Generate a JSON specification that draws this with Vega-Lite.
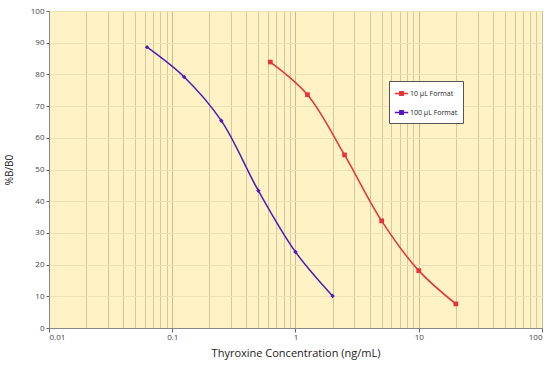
{
  "$schema": "https://vega.github.io/schema/vega-lite/v6.json",
  "width": 493,
  "height": 317,
  "autosize": {"type": "none"},
  "padding": {"left": 49, "top": 11, "right": 15, "bottom": 37},
  "background": "white",
  "config": {
    "view": {"fill": "#FFF3C6", "stroke": "#B0B0B0", "strokeWidth": 1},
    "font": "Open Sans"
  },
  "data": {
    "values": [
      {"conc": 0.625, "pct": 83.9, "series": "10 µL Format"},
      {"conc": 1.25, "pct": 73.6, "series": "10 µL Format"},
      {"conc": 2.5, "pct": 54.6, "series": "10 µL Format"},
      {"conc": 5, "pct": 33.8, "series": "10 µL Format"},
      {"conc": 10, "pct": 18.1, "series": "10 µL Format"},
      {"conc": 20, "pct": 7.6, "series": "10 µL Format"},
      {"conc": 0.0625, "pct": 88.6, "series": "100 µL Format"},
      {"conc": 0.125, "pct": 79.2, "series": "100 µL Format"},
      {"conc": 0.25, "pct": 65.4, "series": "100 µL Format"},
      {"conc": 0.5, "pct": 43.3, "series": "100 µL Format"},
      {"conc": 1, "pct": 24.0, "series": "100 µL Format"},
      {"conc": 2, "pct": 10.1, "series": "100 µL Format"}
    ]
  },
  "encoding": {
    "x": {
      "field": "conc",
      "type": "quantitative",
      "scale": {"type": "log", "domain": [0.01, 100], "nice": false},
      "axis": {
        "title": "Thyroxine Concentration (ng/mL)",
        "titleFont": "Open Sans",
        "titleFontSize": 11,
        "titleFontWeight": "normal",
        "titleColor": "#222222",
        "titlePadding": 6,
        "values": [0.01, 0.02, 0.03, 0.04, 0.05, 0.06, 0.07, 0.08, 0.09, 0.1, 0.2, 0.3, 0.4, 0.5, 0.6, 0.7, 0.8, 0.9, 1, 2, 3, 4, 5, 6, 7, 8, 9, 10, 20, 30, 40, 50, 60, 70, 80, 90, 100],
        "labelExpr": "indexof([0.01,0.1,1,10,100], datum.value) >= 0 ? datum.label : ''",
        "format": "~g",
        "labelFontSize": 8,
        "labelColor": "#444444",
        "labelFont": "Open Sans",
        "labelPadding": 1,
        "tickSize": {"condition": {"test": "indexof([0.01,0.1,1,10,100], datum.value) >= 0", "value": 4}, "value": 0},
        "tickColor": "#666666",
        "domainColor": "#888888",
        "grid": true,
        "gridColor": {"condition": {"test": "indexof([0.01,0.1,1,10,100], datum.value) >= 0", "value": "#CBBC96"}, "value": "#D6C7A0"},
        "gridWidth": 1,
        "labelOverlap": false
      }
    },
    "y": {
      "field": "pct",
      "type": "quantitative",
      "scale": {"domain": [0, 100], "nice": false},
      "axis": {
        "title": "%B/B0",
        "titleFont": "Open Sans",
        "titleFontSize": 10,
        "titleFontWeight": "normal",
        "titleColor": "#222222",
        "titlePadding": 16,
        "values": [0, 10, 20, 30, 40, 50, 60, 70, 80, 90, 100],
        "labelFontSize": 8,
        "labelColor": "#444444",
        "labelFont": "Open Sans",
        "labelPadding": 2,
        "tickSize": 3,
        "tickColor": "#666666",
        "domainColor": "#888888",
        "grid": true,
        "gridColor": "#EEDFB4",
        "gridWidth": 1
      }
    },
    "color": {
      "field": "series",
      "type": "nominal",
      "scale": {"domain": ["10 µL Format", "100 µL Format"], "range": ["#E8323A", "#5218B8"]},
      "legend": {
        "title": null,
        "orient": "none",
        "legendX": 340,
        "legendY": 70,
        "fillColor": "white",
        "strokeColor": "#555555",
        "padding": 5,
        "labelFontSize": 7,
        "labelFont": "Open Sans",
        "labelColor": "#222222",
        "symbolType": "M-1,0H1M-0.25,-0.25H0.25V0.25H-0.25Z",
        "symbolSize": 180,
        "symbolStrokeWidth": 1.5,
        "rowPadding": 6,
        "labelOffset": 1,
        "encode": {
          "symbols": {
            "update": {
              "stroke": {"signal": "scale('color', datum.value)"},
              "fill": {"signal": "scale('color', datum.value)"},
              "strokeWidth": {"value": 1.5},
              "opacity": {"value": 1}
            }
          }
        }
      }
    }
  },
  "layer": [
    {
      "mark": {"type": "line", "interpolate": "catmull-rom", "strokeWidth": 1.5}
    },
    {
      "transform": [{"filter": "datum.series == '10 µL Format'"}],
      "mark": {"type": "point", "shape": "square", "filled": true, "size": 22, "opacity": 1},
      "encoding": {"color": {"field": "series", "type": "nominal", "legend": null}}
    },
    {
      "transform": [{"filter": "datum.series == '100 µL Format'"}],
      "mark": {"type": "point", "shape": "diamond", "filled": true, "size": 20, "opacity": 1},
      "encoding": {"color": {"field": "series", "type": "nominal", "legend": null}}
    }
  ]
}
